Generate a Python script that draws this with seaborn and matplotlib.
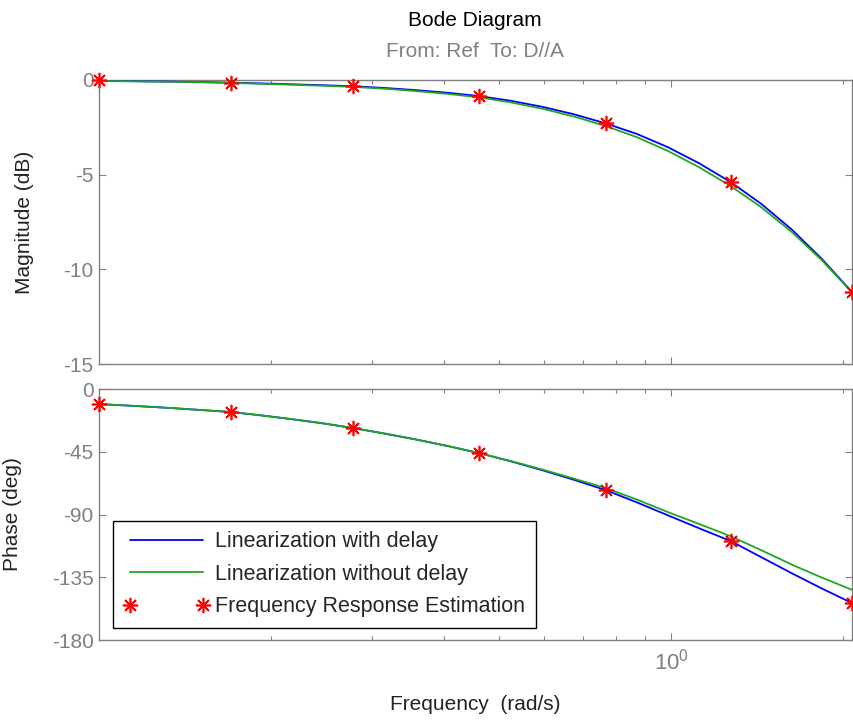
import math
import matplotlib
matplotlib.use("Agg")
import matplotlib.pyplot as plt
import matplotlib.ticker as mticker
import seaborn as sns
import pandas as pd

# Frequencies (rad/s) for the linearized responses
freq_line = [0.1, 0.115, 0.132, 0.15, 0.17, 0.192, 0.217, 0.246, 0.278, 0.315, 0.358, 0.407,
             0.462, 0.525, 0.596, 0.676, 0.768, 0.871, 0.987, 1.119, 1.27, 1.435, 1.622,
             1.832, 2.07]

# Magnitude (dB)
mag_with_delay = [-0.05, -0.065, -0.085, -0.11, -0.14, -0.18, -0.225, -0.275, -0.33, -0.42,
                  -0.535, -0.675, -0.85, -1.10, -1.42, -1.81, -2.29, -2.85, -3.55, -4.40,
                  -5.39, -6.53, -7.88, -9.44, -11.2]
mag_without_delay = [-0.05, -0.07, -0.095, -0.12, -0.155, -0.20, -0.25, -0.305, -0.365, -0.46,
                     -0.585, -0.735, -0.92, -1.185, -1.52, -1.93, -2.43, -3.02, -3.75, -4.61,
                     -5.60, -6.71, -8.01, -9.51, -11.22]

# Phase (deg)
phase_with_delay = [-10.8, -12.1, -13.5, -15.0, -16.5, -18.9, -21.6, -24.6, -28.0, -31.9,
                    -36.2, -40.9, -46.0, -51.9, -58.3, -65.1, -72.5, -81.3, -90.6, -99.9,
                    -109.0, -120.5, -132.0, -143.0, -153.5]
phase_without_delay = [-10.8, -12.1, -13.5, -15.0, -16.5, -18.9, -21.6, -24.6, -28.0, -31.9,
                       -36.2, -40.9, -46.0, -51.7, -57.8, -64.3, -71.0, -79.3, -88.3, -96.8,
                       -105.6, -115.5, -125.8, -135.2, -144.0]

# Frequency response estimation points
freq_est = [0.1, 0.17, 0.278, 0.462, 0.768, 1.27, 2.07]
mag_est = [0.0, -0.14, -0.33, -0.85, -2.29, -5.39, -11.2]
phase_est = [-10.8, -16.5, -28.0, -46.0, -72.5, -109.0, -153.5]

mag_ticks = [0, -5, -10, -15]
phase_ticks = [0, -45, -90, -135, -180]

sns.set_style("ticks")
plt.rcParams["font.family"] = ["Liberation Sans", "DejaVu Sans"]
plt.rcParams["axes.unicode_minus"] = False
plt.rcParams["mathtext.fontset"] = "custom"
plt.rcParams["mathtext.rm"] = "Liberation Sans"
plt.rcParams["mathtext.it"] = "Liberation Sans"
plt.rcParams["mathtext.default"] = "regular"

FS = 15
GRAY = "#808080"
BLUE = "#0000ff"
GREEN = "#1fa81f"
RED = "#ff0000"

lines = pd.DataFrame({
    "freq": freq_line,
    "mag_d": mag_with_delay, "mag_nd": mag_without_delay,
    "ph_d": phase_with_delay, "ph_nd": phase_without_delay,
})
est = pd.DataFrame({"freq": freq_est, "mag": mag_est, "phase": phase_est})

fig = plt.figure(figsize=(8.54, 7.2), dpi=100)
ax1 = fig.add_axes([0.116, 0.4944, 0.8817, 0.3945])
ax2 = fig.add_axes([0.116, 0.1111, 0.8817, 0.3486], sharex=ax1)

star = dict(color=RED, marker=(8, 2, 0), linestyle="none", markersize=11,
            markeredgecolor=RED, markeredgewidth=1.2)

for ax, yd, ynd, yest in [(ax1, "mag_d", "mag_nd", "mag"), (ax2, "ph_d", "ph_nd", "phase")]:
    sns.lineplot(data=lines, x="freq", y=yd, ax=ax, color=BLUE, linewidth=1.3,
                 label="Linearization with delay", zorder=3)
    sns.lineplot(data=lines, x="freq", y=ynd, ax=ax, color=GREEN, linewidth=1.3,
                 label="Linearization without delay", zorder=3)
    sns.lineplot(data=est, x="freq", y=yest, ax=ax, label="Frequency Response Estimation",
                 zorder=4, clip_on=False, **star)

for ax in (ax1, ax2):
    ax.set_xscale("log")
    ax.set_xlim(0.1, 2.07)
    ax.xaxis.set_major_locator(mticker.FixedLocator([1.0]))
    ax.xaxis.set_minor_locator(mticker.LogLocator(base=10, subs=range(2, 10)))
    ax.xaxis.set_minor_formatter(mticker.NullFormatter())
    ax.set_xlabel("")
    ax.set_ylabel("")
    for sp in ax.spines.values():
        sp.set_visible(True)
        sp.set_color(GRAY)
        sp.set_linewidth(1.0)
    ax.tick_params(which="both", direction="in", top=True, right=True, color=GRAY,
                   labelcolor=GRAY, labelsize=FS, width=0.8)
    ax.tick_params(which="major", length=5, pad=4)
    ax.tick_params(which="minor", length=3)

ax1.set_ylim(-15, 0)
ax1.set_yticks(mag_ticks)
ax1.set_yticklabels([str(t) for t in mag_ticks])
ax1.tick_params(axis="x", labelbottom=False)
ax1.get_legend().remove()

ax2.set_ylim(-180, 0)
ax2.set_yticks(phase_ticks)
ax2.set_yticklabels([str(t) for t in phase_ticks])
ax2.xaxis.set_major_formatter(
    mticker.FuncFormatter(lambda v, p: r"$10^{%d}$" % round(math.log10(v))))
ax2.tick_params(axis="x", which="major", labelsize=16, pad=6)

ax1.set_ylabel("Magnitude (dB)", fontsize=FS, color="#222222")
ax1.yaxis.set_label_coords(-0.0863, 0.5)
ax2.set_ylabel("Phase (deg)", fontsize=FS, color="#222222")
ax2.yaxis.set_label_coords(-0.102, 0.5)

leg = ax2.legend(loc="lower left", bbox_to_anchor=(0.0186, 0.048), borderaxespad=0,
                 numpoints=2, fontsize=15.5, handlelength=4.0, handletextpad=0.25,
                 labelspacing=0.53, borderpad=0.5, fancybox=False, framealpha=1,
                 edgecolor="black")
leg.get_frame().set_linewidth(1.0)

fig.text(0.556, 0.972, "Bode Diagram", ha="center", va="center", fontsize=FS, color="black")
fig.text(0.556, 0.928, "From: Ref  To: D//A", ha="center", va="center", fontsize=FS, color=GRAY)
fig.text(0.556, 1 - 705 / 720, "Frequency  (rad/s)", ha="center", va="center", fontsize=FS,
         color="#222222")

fig.savefig("out.png", dpi=100)
